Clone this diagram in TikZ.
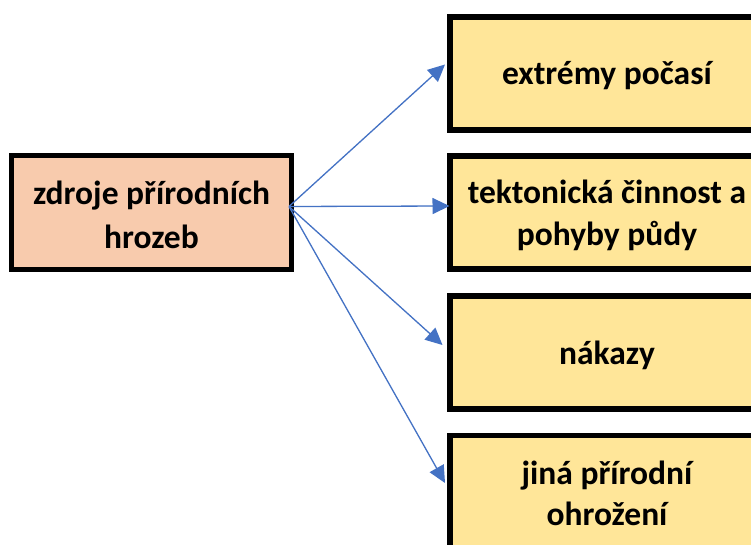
\documentclass[tikz,border=0pt]{standalone}
\usepackage{fontspec}
\setmainfont{Carlito}
\usetikzlibrary{arrows.meta}
\definecolor{srcfill}{HTML}{F8CBAD}
\definecolor{catfill}{HTML}{FFE699}
\definecolor{arrowblue}{HTML}{4472C4}
\tikzset{
  box/.style={draw=black, rectangle, outer sep=0pt, inner sep=0pt, line width=5.5pt},
  srcbox/.style={box, fill=srcfill, minimum width=280pt, minimum height=114pt},
  catbox/.style={box, fill=catfill, minimum width=314pt, minimum height=113pt},
  boxtext/.style={inner sep=0pt, align=center, font=\fontsize{33.5}{41.5}\selectfont\bfseries},
  srctext/.style={boxtext, font=\fontsize{33.5}{44}\selectfont\bfseries},
  link/.style={draw=arrowblue, line width=1.3pt, -{Triangle[length=17pt,width=16pt]}, fill=arrowblue}
}
\begin{document}
\begin{tikzpicture}[x=1pt, y=-1pt]
  \useasboundingbox (0,0) rectangle (751,545);
  \clip (0,0) rectangle (751,545);
  \fill[white] (0,0) rectangle (751,545);

  % source box
  \node[srcbox] (src) at (151.5,212.5) {};
  \node[srctext] (srct) at ([yshift=-2.5pt]src.center) {zdroje přírodních\\hrozeb};

  % categories
  \node[catbox] (c1) at (607,73.5) {};
  \node[catbox] (c2) at (607,212.5) {};
  \node[catbox] (c3) at (607,352.5) {};
  \node[catbox] (c4) at (607,492) {};
  \node[boxtext] (c1t) at ([yshift=-2.5pt]c1.center) {extrémy počasí};
  \node[boxtext] (c2t) at ([yshift=-3pt]c2.center) {tektonická činnost a\\pohyby půdy};
  \node[boxtext] (c3t) at ([yshift=-2.5pt]c3.center) {nákazy};
  \node[boxtext] (c4t) at ([yshift=-1.5pt]c4.center) {jiná přírodní\\ohrožení};

  % arrow end points
  \coordinate (o) at (289,206.5);
  \coordinate (t1) at (445,64.5);
  \coordinate (t2) at (449.5,206);
  \coordinate (t3) at (442.5,345);
  \coordinate (t4) at (445,483);

  \draw[link] (o) -- (t1);
  \draw[link] (o) -- (t2);
  \draw[link] (o) -- (t3);
  \draw[link] (o) -- (t4);
\end{tikzpicture}
\end{document}
